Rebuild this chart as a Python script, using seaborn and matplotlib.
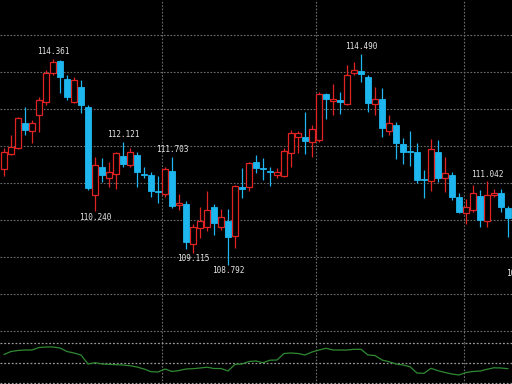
import numpy as np
import pandas as pd
import matplotlib
matplotlib.use("Agg")
import matplotlib.pyplot as plt
import seaborn as sns

# ---- data ----
opens = [111.38, 111.78, 111.95, 112.62, 112.41, 112.84, 113.19, 113.97, 114.30, 113.81,
         113.19, 113.60, 113.05, 110.68, 111.43, 111.14, 111.24, 111.73, 111.49, 111.76,
         111.24, 111.22, 110.78, 110.70, 111.32, 110.41, 110.43, 109.35, 109.78, 109.81,
         110.35, 109.81, 109.97, 109.57, 110.89, 110.89, 111.57, 111.41, 111.32, 111.22,
         111.19, 111.81, 112.24, 112.24, 112.11, 112.16, 113.41, 113.22, 113.24, 113.14,
         113.97, 114.03, 113.87, 113.14, 113.27, 112.41, 112.57, 112.05, 111.87, 111.84,
         111.11, 111.05, 111.84, 111.14, 111.22, 110.62, 110.19, 110.27, 110.65, 109.97,
         110.68, 110.73, 110.32]
highs = [111.95, 112.30, 112.78, 113.05, 112.70, 113.32, 114.05, 114.361, 114.32, 113.92,
         113.87, 113.78, 113.11, 111.70, 111.68, 111.57, 111.84, 112.121, 111.95, 111.84,
         111.43, 111.30, 111.19, 111.43, 111.703, 110.70, 110.51, 109.89, 110.35, 110.78,
         110.43, 110.30, 110.30, 110.95, 111.41, 111.57, 111.76, 111.68, 111.43, 111.41,
         111.95, 112.43, 112.41, 112.92, 112.57, 113.46, 113.43, 113.68, 113.46, 114.19,
         114.27, 114.490, 113.92, 113.60, 113.57, 112.84, 112.65, 112.22, 112.41, 112.08,
         111.35, 112.19, 112.16, 111.70, 111.30, 110.73, 110.57, 110.95, 110.81, 111.042,
         110.84, 110.84, 110.38]
lows = [111.19, 111.76, 111.93, 112.30, 112.08, 112.38, 113.11, 113.92, 113.43, 113.24,
        113.16, 112.89, 110.81, 110.240, 111.03, 110.89, 110.84, 111.43, 111.43, 110.89,
        111.14, 110.62, 110.46, 110.62, 110.32, 110.27, 109.22, 109.115, 109.51, 109.70,
        109.59, 109.73, 108.792, 109.24, 110.59, 110.78, 111.27, 111.08, 110.92, 111.14,
        111.16, 111.43, 111.81, 111.78, 111.70, 112.11, 112.73, 112.84, 112.87, 113.11,
        113.92, 113.73, 112.92, 112.84, 112.24, 112.30, 111.65, 111.51, 111.46, 111.00,
        110.59, 110.78, 111.03, 110.76, 110.54, 110.19, 109.89, 110.22, 109.81, 109.81,
        110.62, 110.22, 109.54]
closes = [111.84, 111.97, 112.76, 112.43, 112.62, 113.24, 113.97, 114.27, 113.87, 113.32,
          113.78, 113.11, 110.86, 111.49, 111.22, 111.30, 111.81, 111.51, 111.84, 111.30,
          111.22, 110.78, 110.76, 111.38, 110.38, 110.46, 109.41, 109.81, 109.97, 110.27,
          109.92, 110.08, 109.54, 110.92, 110.84, 111.54, 111.41, 111.38, 111.30, 111.30,
          111.87, 112.35, 112.35, 112.14, 112.46, 113.41, 113.27, 113.27, 113.19, 113.92,
          114.05, 113.95, 113.16, 113.27, 112.49, 112.62, 112.08, 111.84, 111.84, 111.08,
          111.08, 111.92, 111.14, 111.27, 110.62, 110.22, 110.35, 110.73, 110.00, 110.68,
          110.73, 110.35, 110.05]
oscillator = [8.5, 11.5, 12.5, 13, 13, 15.5, 16, 16, 15, 11.5,
              10, 8, -1, 0.3, -1, -1.3, -1.7, -2, -2.7, -4,
              -6, -8.7, -9, -6, -8.5, -7.5, -6, -5.7, -5, -4.2,
              -5.5, -5.5, -8, -1.3, -1, 1.5, 2, 0.3, 2.8, 3,
              9.5, 10, 9.5, 8, 11, 13, 14.7, 13, 13, 13,
              13.7, 13.7, 8, 7.5, 3, 1.3, -1, -2, -3.7, -10,
              -10.3, -5.3, -7.7, -9.5, -11, -12, -9.5, -8.5, -8, -6.3,
              -4.8, -5, -5.7]
high_label_idx = [7, 17, 24, 51, 69]
high_label_txt = ["114.361", "112.121", "111.703", "114.490", "111.042"]
low_label_idx = [13, 27, 32, 74]
low_label_txt = ["110.240", "109.115", "108.792", "108.700"]
low_label_val = [110.240, 109.115, 108.792, 108.70]
price_grid = [107, 108, 109, 110, 111, 112, 113, 114, 115]
period_lines = [22.6, 44.6, 65.65]

# ---- style ----
sns.set_theme(style="dark", rc={"axes.facecolor": "black", "figure.facecolor": "black",
                                "axes.edgecolor": "black", "axes.grid": False})
plt.rcParams["font.family"] = ["DejaVu Sans Mono", "DejaVu Sans"]

RED = "#e02424"
CYAN = "#1eb6ee"
GRID = "#6e6e6e"

df = pd.DataFrame({"o": opens, "h": highs, "l": lows, "c": closes})
df["i"] = np.arange(len(df))
df["up"] = df["c"] >= df["o"]

fig = plt.figure(figsize=(5.12, 3.84), dpi=100)
ax = fig.add_axes([0, 41 / 384, 1, 343 / 384])
ax2 = fig.add_axes([0, 0, 1, 41 / 384])

for a in (ax, ax2):
    a.set_facecolor("black")
    a.set_xlim(-4 / 7, 508 / 7)
    a.set_xticks([])
    a.set_yticks([])
    for s in a.spines.values():
        s.set_visible(False)
    for v in period_lines:
        a.axvline(v, color=GRID, lw=0.8, ls=(0, (1.5, 1.5)), zorder=0)

ax.set_ylim(115.946 - 343 / 37, 115.946)
for p in price_grid:
    ax.axhline(p, color=GRID, lw=0.8, ls=(0, (1.5, 1.5)), zorder=0)

colors = np.where(df["up"], RED, CYAN)
ax.vlines(df["i"], df["l"], df["h"], colors=colors, lw=0.9, zorder=2)
body_lo = np.minimum(df["o"], df["c"])
body_h = np.maximum(np.abs(df["c"] - df["o"]), 0.03)
up = df["up"].values
ax.bar(df["i"][up], body_h[up], bottom=body_lo[up], width=0.72,
       facecolor="black", edgecolor=RED, linewidth=0.9, zorder=3)
ax.bar(df["i"][~up], body_h[~up], bottom=body_lo[~up], width=0.72,
       facecolor=CYAN, edgecolor=CYAN, linewidth=0.6, zorder=3)

for i, t in zip(high_label_idx, high_label_txt):
    ax.annotate(t, (i, highs[i]), xytext=(0, 2), textcoords="offset points",
                ha="center", va="bottom", color="#e6e6e6", fontsize=5.6)
for i, t, v in zip(low_label_idx, low_label_txt, low_label_val):
    ax.annotate(t, (i, v), xytext=(0, -1), textcoords="offset points",
                ha="center", va="top", color="#e6e6e6", fontsize=5.6,
                annotation_clip=False, clip_on=True)

# ---- lower indicator panel ----
ax2.set_ylim(-21, 20)
ax2.axhline(20, color="#9a9a9a", lw=0.9, ls=(0, (1.5, 1.5)), clip_on=False, zorder=1)
ax2.axhline(0, color="#9a9a9a", lw=0.9, ls=(0, (1.5, 1.5)), zorder=1)
ax2.axhline(-20, color="#9a9a9a", lw=0.9, ls=(0, (1.5, 1.5)), zorder=1)
osc_df = pd.DataFrame({"i": np.arange(len(oscillator)), "v": oscillator})
sns.lineplot(data=osc_df, x="i", y="v", ax=ax2, color="#2f8a32", lw=0.9, zorder=3)
ax2.set_xlabel("")
ax2.set_ylabel("")
ax2.set_xlim(-4 / 7, 508 / 7)

fig.savefig("out.png", dpi=100, facecolor="black")
